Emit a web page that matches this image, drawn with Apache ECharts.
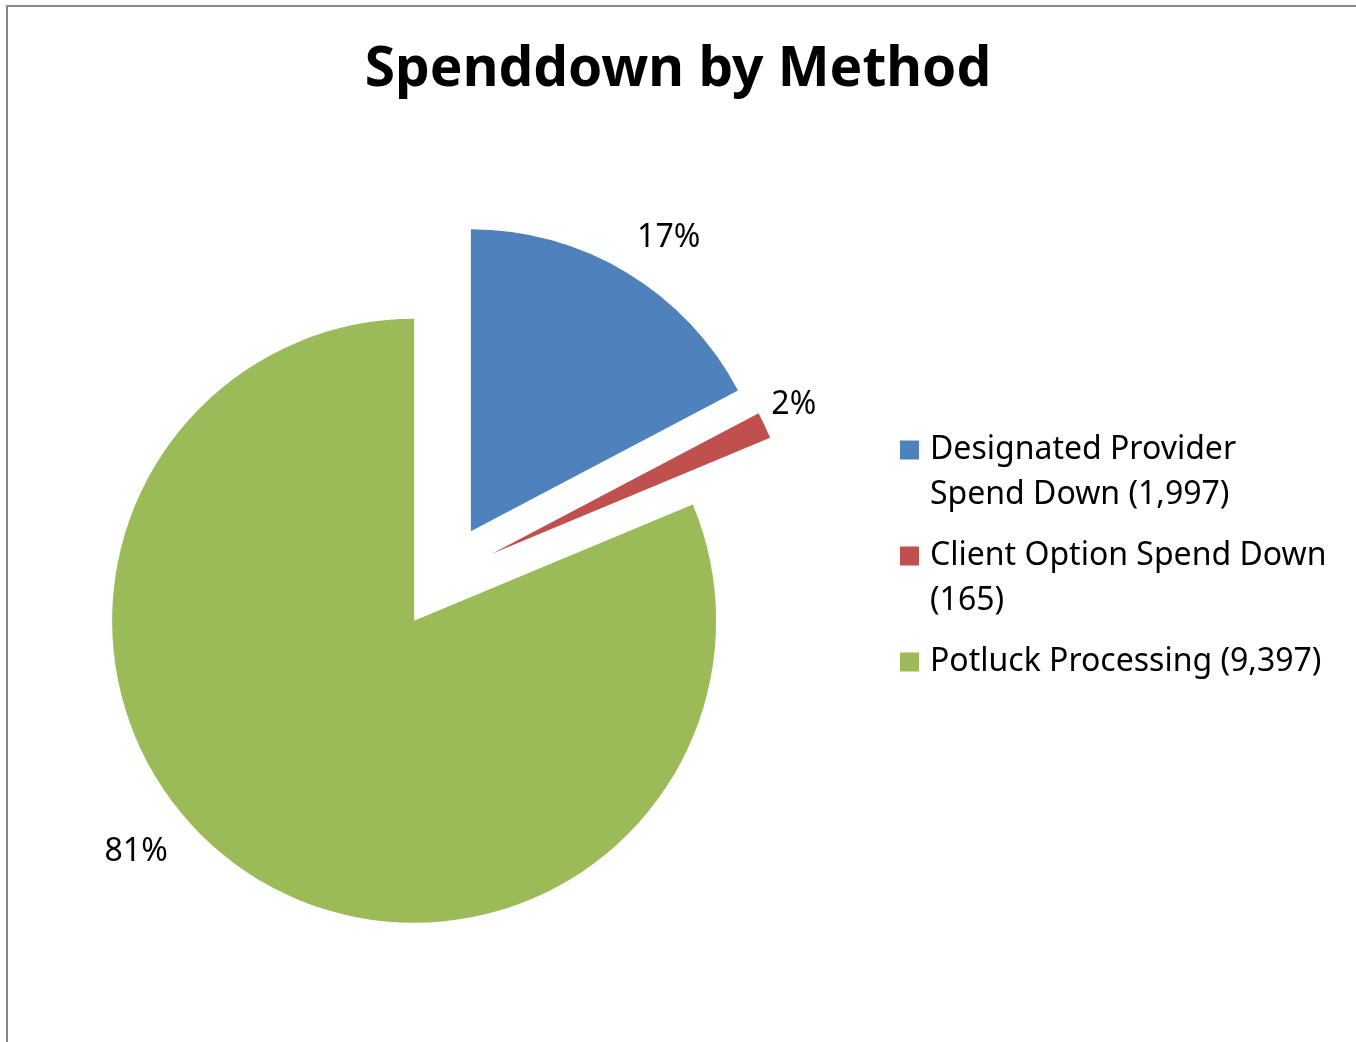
<!DOCTYPE html>
<html>
<head>
<meta charset="utf-8">
<style>
  html, body { margin: 0; padding: 0; background: #fff; }
  #chart { width: 1356px; height: 1042px; }
</style>
<script src="https://cdn.jsdelivr.net/npm/echarts@6/dist/echarts.min.js"></script>
</head>
<body>
<div id="chart"></div>
<script>
// ---- data ----
const titleText = 'Spenddown by Method';
const categories = ['Designated Provider Spend Down', 'Client Option Spend Down', 'Potluck Processing'];
const values = [1997, 165, 9397];
const colors = ['#4F81BD', '#C0504D', '#9BBB59'];

// ---- style ----
const FONT = '"Noto Sans", "DejaVu Sans", sans-serif';
const LEGEND_SIZE = 32;
const LABEL_SIZE = 32;
const LEGEND_MAX_W = 401;
// small label nudges (Excel "best fit" placement)
const labelNudge = [
  { dx: -13, dy: 4 },
  { dx: -34, dy: -1 },
  { dx: -54, dy: -58 }
];

function wrapText(text, font, maxW) {
  const ctx = document.createElement('canvas').getContext('2d');
  ctx.font = font;
  const words = text.split(' ');
  const lines = [];
  let cur = '';
  words.forEach(w => {
    const t = cur ? cur + ' ' + w : w;
    if (cur && ctx.measureText(t).width > maxW) { lines.push(cur); cur = w; }
    else cur = t;
  });
  if (cur) lines.push(cur);
  return lines;
}

const chart = echarts.init(document.getElementById('chart'));

const rich = {
  gap: { width: 19, height: 19 },
  t: { fontSize: LEGEND_SIZE, fontFamily: FONT, color: '#000', lineHeight: 45, padding: [0, 0, 0, 11] }
};
colors.forEach((c, i) => { rich['s' + i] = { width: 19, height: 19, backgroundColor: c }; });

chart.setOption({
  animation: false,
  color: colors,
  title: {
    text: titleText,
    left: 'center',
    top: 43,
    padding: [0, 0, 0, 19],
    textStyle: { fontFamily: FONT, fontWeight: 'bold', fontSize: 55, color: '#000' }
  },
  graphic: [{
    type: 'rect',
    shape: { x: 7, y: 6, width: 2000, height: 2000 },
    style: { fill: 'none', stroke: '#888888', lineWidth: 2 },
    silent: true
  }],
  legend: {
    orient: 'vertical',
    left: 895,
    top: 434,
    padding: 0,
    itemGap: 29,
    itemWidth: 0,
    itemHeight: 0,
    icon: 'none',
    selectedMode: false,
    data: categories,
    formatter: name => {
      const i = categories.indexOf(name);
      const full = name + ' (' + values[i].toLocaleString('en-US') + ')';
      const lines = wrapText(full, LEGEND_SIZE + 'px ' + FONT, LEGEND_MAX_W);
      return lines.map((l, k) => (k === 0 ? '{s' + i + '| }' : '{gap| }') + '{t|' + l + '}').join('\n');
    },
    textStyle: { rich: rich }
  },
  series: [{
    type: 'pie',
    center: [443.5, 576.7],
    radius: 302,
    startAngle: 90,
    clockwise: true,
    selectedMode: 'multiple',
    selectedOffset: 53,
    avoidLabelOverlap: false,
    percentPrecision: 0,
    emphasis: { disabled: true },
    label: {
      show: true,
      position: 'outside',
      formatter: '{d}%',
      fontFamily: FONT,
      fontSize: LABEL_SIZE,
      color: '#000',
      distanceToLabelLine: 0
    },
    labelLine: { show: false, length: 45, length2: 0 },
    labelLayout: p => labelNudge[p.dataIndex],
    itemStyle: { borderWidth: 0 },
    data: categories.map((n, i) => ({ name: n, value: values[i], selected: true }))
  }]
});
</script>
</body>
</html>
